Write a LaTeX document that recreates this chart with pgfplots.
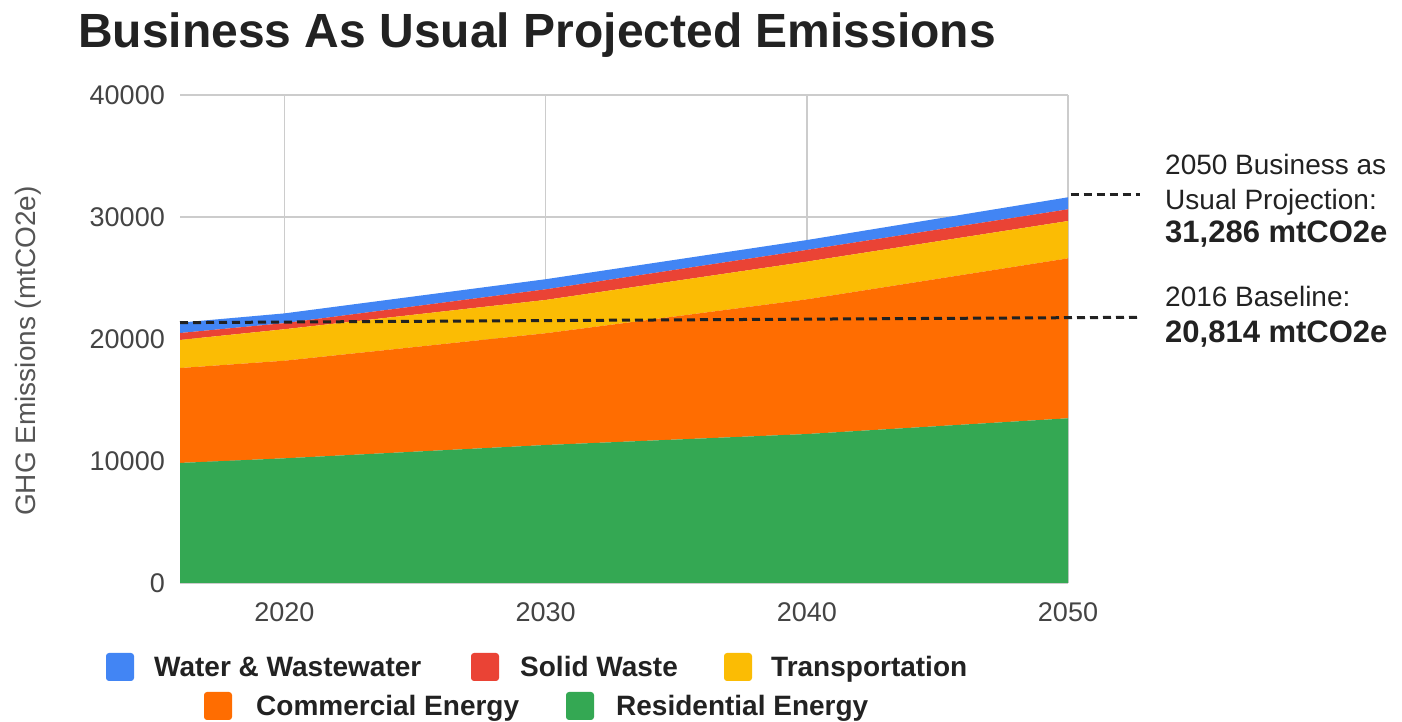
\documentclass[border=0pt]{standalone}
\usepackage{fontspec}
\setmainfont{Liberation Sans}
\usepackage{pgfplots}
\pgfplotsset{compat=1.18}

\definecolor{cWater}{HTML}{4285F4}
\definecolor{cWaste}{HTML}{EA4335}
\definecolor{cTrans}{HTML}{FBBC04}
\definecolor{cComm}{HTML}{FF6D01}
\definecolor{cRes}{HTML}{34A853}
\definecolor{tickgray}{HTML}{444444}
\definecolor{labgray}{HTML}{555555}
\definecolor{gridgray}{HTML}{CCCCCC}
\definecolor{txt}{HTML}{222222}

\begin{document}
\begin{tikzpicture}[x=1pt,y=1pt]
\path[use as bounding box] (0pt,0pt) rectangle (1402pt,722pt);
\begin{axis}[
    at={(180pt,139pt)}, anchor=south west,
    width=888pt, height=488pt, scale only axis,
    xmin=2016, xmax=2050, ymin=0, ymax=40000,
    xtick={2020,2030,2040,2050},
    ytick={0,10000,20000,30000,40000},
    scaled y ticks=false,
    stack plots=y,
    axis line style={draw=none},
    major tick length=0pt,
    grid=major,
    major grid style={draw=gridgray, line width=1.5pt},
    tick label style={font=\fontsize{27}{30}\selectfont, text=tickgray},
    /pgf/number format/assume math mode=true,
    /pgf/number format/1000 sep={},
    xticklabel style={anchor=north, inner sep=0pt, yshift=-19pt},
    yticklabel style={anchor=east, inner sep=0pt, xshift=-15pt},
    clip=false,
]
% Residential Energy
\addplot[fill=cRes, draw=none] coordinates {(2016,9840) (2020,10220) (2030,11310) (2040,12210) (2050,13500)} \closedcycle;
% Commercial Energy
\addplot[fill=cComm, draw=none] coordinates {(2016,7780) (2020,8000) (2030,9160) (2040,11040) (2050,13110)} \closedcycle;
% Transportation
\addplot[fill=cTrans, draw=none] coordinates {(2016,2300) (2020,2580) (2030,2730) (2040,3090) (2050,3060)} \closedcycle;
% Solid Waste
\addplot[fill=cWaste, draw=none] coordinates {(2016,570) (2020,500) (2030,870) (2040,960) (2050,960)} \closedcycle;
% Water & Wastewater
\addplot[fill=cWater, draw=none] coordinates {(2016,850) (2020,800) (2030,830) (2040,810) (2050,985)} \closedcycle;

\coordinate (b1) at (axis cs:2016,21340);
\coordinate (b2) at (axis cs:2052.76,21780);
\coordinate (p1) at (axis cs:2050.1,31860);
\coordinate (p2) at (axis cs:2052.76,31860);
\end{axis}

% reference lines, drawn over the areas
\draw[txt, line width=3pt, dash pattern=on 8pt off 5pt] (b1) -- (b2);
\draw[txt, line width=3pt, dash pattern=on 8pt off 5pt] (p1) -- (p2);

% title
\node[anchor=base west, inner sep=0pt, text=txt, font=\fontsize{48}{56}\selectfont\bfseries]
    at (78pt,674pt) {Business As Usual Projected Emissions};

% y label
\node[rotate=90, inner sep=0pt, text=labgray, font=\fontsize{28}{32}\selectfont]
    at (28pt,371pt) {GHG Emissions (mtCO2e)};

% annotations
\begin{scope}[every node/.style={anchor=base west, inner sep=0pt, text=txt}]
\node[font=\fontsize{28}{32}\selectfont] at (1165pt,547pt) {2050 Business as};
\node[font=\fontsize{28}{32}\selectfont] at (1165pt,512pt) {Usual Projection:};
\node[font=\fontsize{31}{34}\selectfont\bfseries] at (1165pt,479pt) {31,286 mtCO2e};
\node[font=\fontsize{28}{32}\selectfont] at (1165pt,415pt) {2016 Baseline:};
\node[font=\fontsize{31}{34}\selectfont\bfseries] at (1165pt,379pt) {20,814 mtCO2e};
\end{scope}

% legend
\begin{scope}[every node/.style={anchor=base west, inner sep=0pt, text=txt,
        font=\fontsize{28}{32}\selectfont\bfseries}]
\fill[cWater, rounded corners=3pt] (106pt,41pt) rectangle (134pt,69pt);
\node at (154pt,45pt) {Water \& Wastewater};
\fill[cWaste, rounded corners=3pt] (471pt,41pt) rectangle (499pt,69pt);
\node at (520pt,45pt) {Solid Waste};
\fill[cTrans, rounded corners=3pt] (724pt,41pt) rectangle (752pt,69pt);
\node at (771pt,45pt) {Transportation};
\fill[cComm, rounded corners=3pt] (204pt,2pt) rectangle (232pt,30pt);
\node at (256pt,6pt) {Commercial Energy};
\fill[cRes, rounded corners=3pt] (566pt,2pt) rectangle (594pt,30pt);
\node at (616pt,6pt) {Residential Energy};
\end{scope}
\end{tikzpicture}
\end{document}
